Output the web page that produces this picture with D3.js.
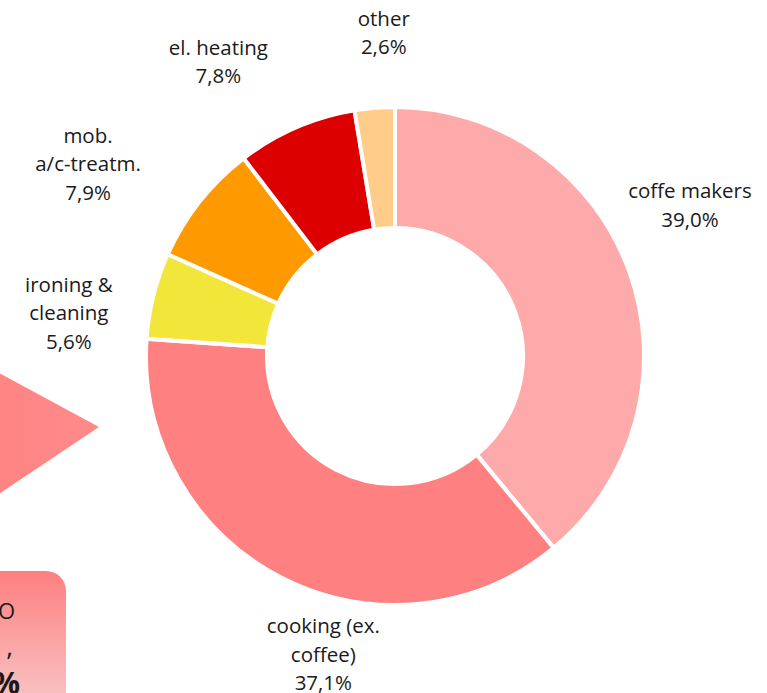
<!DOCTYPE html>
<html>
<head>
<meta charset="utf-8">
<script src="https://cdn.jsdelivr.net/npm/d3@7"></script>
<style>
  body { margin: 0; background: #fff; overflow: hidden; }
  svg text { font-family: "Open Sans", "Noto Sans", sans-serif; fill: #1a1a1a; }
</style>
</head>
<body>
<svg></svg>
<script>
const width = 767, height = 693;
const svg = d3.select("svg").attr("width", width).attr("height", height);

// Data
const categories = ["coffe makers", "cooking (ex.\ncoffee)", "ironing &\ncleaning", "mob.\na/c-treatm.", "el. heating", "other"];
const shares = [39.0, 37.1, 5.6, 7.9, 7.8, 2.6];
const colors = ["#ffaaaa", "#ff8080", "#f2e63a", "#ff9900", "#dd0000", "#ffcc8a"];

// label anchor (angle in degrees from top, distance from centre) - layout only
const labelAngle = [63, 193.5, 277.5, 302, 329, 358];
const labelDist = [331, 307, 329, 362, 343, 323];

const cx = 395, cy = 356, outerR = 249, innerR = 128;
const defs = svg.append("defs");

// --- cropped shapes on the left (from the neighbouring graphic) ---
const triGrad = defs.append("linearGradient").attr("id", "triGrad")
  .attr("x1", 0).attr("x2", 1).attr("y1", 0).attr("y2", 0);
triGrad.append("stop").attr("offset", 0).attr("stop-color", "#ff8282");
triGrad.append("stop").attr("offset", 1).attr("stop-color", "#ff8a8a");
svg.append("path")
  .attr("d", "M-40,352 L99,427 L-40,520 Z")
  .attr("fill", "url(#triGrad)");

const boxGrad = defs.append("linearGradient").attr("id", "boxGrad")
  .attr("x1", 0).attr("x2", 0).attr("y1", 0).attr("y2", 1);
boxGrad.append("stop").attr("offset", 0).attr("stop-color", "#ff7f7f");
boxGrad.append("stop").attr("offset", 1).attr("stop-color", "#f5d3d3");
svg.append("rect")
  .attr("x", -60).attr("y", 571).attr("width", 126).attr("height", 160)
  .attr("rx", 20).attr("fill", "url(#boxGrad)");
svg.append("text").attr("x", 15).attr("y", 619).attr("text-anchor", "end")
  .attr("font-size", 22).text("O");
svg.append("text").attr("x", 13).attr("y", 656).attr("text-anchor", "end")
  .attr("font-size", 26).text(",");
svg.append("text").attr("x", 20).attr("y", 694).attr("text-anchor", "end")
  .attr("font-size", 30).attr("font-weight", "bold").text("%");

// --- donut ---
const data = categories.map((c, i) => ({ label: c, value: shares[i], color: colors[i], i }));
const pie = d3.pie().sort(null).value(d => d.value);
const arc = d3.arc().innerRadius(innerR).outerRadius(outerR);

const g = svg.append("g").attr("transform", `translate(${cx},${cy})`);
g.selectAll("path")
  .data(pie(data))
  .join("path")
  .attr("d", arc)
  .attr("fill", d => d.data.color)
  .attr("stroke", "#fff")
  .attr("stroke-width", 4)
  .attr("stroke-linejoin", "miter");

// --- labels ---
const fmt = v => d3.format(".1f")(v).replace(".", ",") + "%";
const lineH = 28.5;
data.forEach(d => {
  const a = labelAngle[d.i] * Math.PI / 180;
  const x = Math.sin(a) * labelDist[d.i];
  const y = -Math.cos(a) * labelDist[d.i];
  const lines = d.label.split("\n").concat(fmt(d.value));
  const t = g.append("text").attr("text-anchor", "middle").attr("font-size", 20.5);
  const y0 = y - (lines.length - 1) * lineH / 2 + 7;
  lines.forEach((l, k) => {
    t.append("tspan").attr("x", x).attr("y", y0 + k * lineH).text(l);
  });
});
</script>
</body>
</html>
